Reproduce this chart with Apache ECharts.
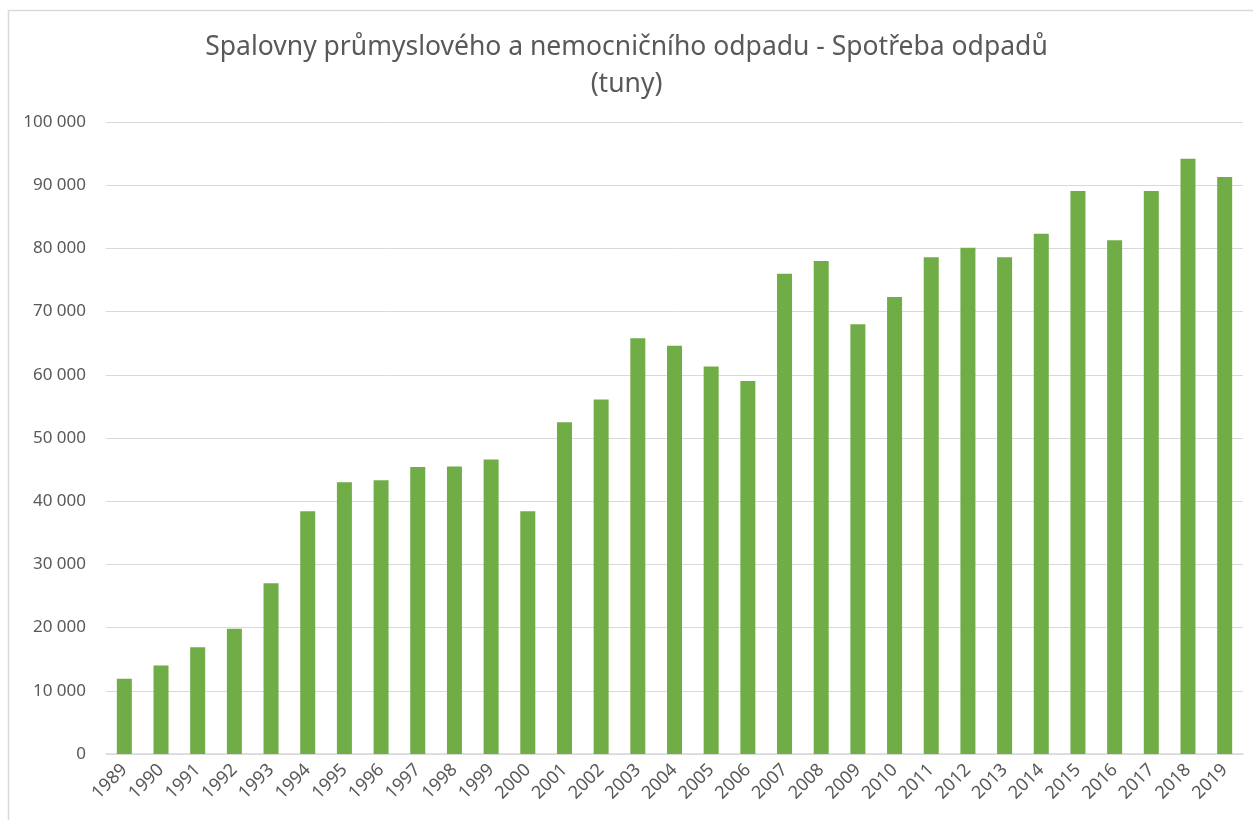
<!DOCTYPE html>
<html>
<head>
<meta charset="utf-8">
<script src="https://cdn.jsdelivr.net/npm/echarts@6/dist/echarts.min.js"></script>
<style>
  html, body { margin: 0; padding: 0; background: #fff; }
  #main { width: 1253px; height: 820px; }
</style>
</head>
<body>
<div id="main"></div>
<script>
// roky
const years = ['1989', '1990', '1991', '1992', '1993', '1994', '1995', '1996', '1997', '1998',
  '1999', '2000', '2001', '2002', '2003', '2004', '2005', '2006', '2007', '2008',
  '2009', '2010', '2011', '2012', '2013', '2014', '2015', '2016', '2017', '2018', '2019'];
// spotreba odpadu (tuny)
const waste = [11900, 14000, 16900, 19800, 27000, 38400, 43000, 43300, 45400, 45500,
  46600, 38400, 52500, 56100, 65800, 64600, 61300, 59000, 76000, 78000,
  68000, 72300, 78600, 80100, 78600, 82300, 89100, 81300, 89100, 94200, 91300];
const yTicks = { min: 0, max: 100000, step: 10000 };

const labelColor = '#595959';
const font = 'Noto Sans';

const chart = echarts.init(document.getElementById('main'));
chart.setOption({
  animation: false,
  backgroundColor: '#fff',
  title: {
    text: 'Spalovny průmyslového a nemocničního odpadu - Spotřeba odpadů\n(tuny)',
    left: 'center',
    top: 24,
    padding: [5, 5, 5, 23],
    textStyle: {
      fontFamily: font,
      fontSize: 26.5,
      fontWeight: 'normal',
      color: labelColor,
      lineHeight: 37
    }
  },
  graphic: [{
    type: 'rect',
    shape: { x: 8.5, y: 10.5, width: 1400, height: 1000 },
    style: { fill: 'none', stroke: '#d9d9d9', lineWidth: 1.5 },
    silent: true
  }],
  grid: { left: 106, right: 10, top: 122, bottom: 66 },
  xAxis: {
    type: 'category',
    data: years,
    axisLine: { lineStyle: { color: '#d9d9d9', width: 1.5 } },
    axisTick: { show: false },
    axisLabel: {
      rotate: 45,
      interval: 0,
      margin: 13,
      fontFamily: font,
      fontSize: 18,
      color: labelColor
    }
  },
  yAxis: {
    type: 'value',
    min: yTicks.min,
    max: yTicks.max,
    interval: yTicks.step,
    axisLine: { show: false },
    axisTick: { show: false },
    splitLine: { lineStyle: { color: '#d9d9d9', width: 1 } },
    axisLabel: {
      margin: 20,
      fontFamily: font,
      fontSize: 17,
      color: labelColor,
      formatter: v => String(v).replace(/\B(?=(\d{3})+(?!\d))/g, ' ')
    }
  },
  series: [{
    type: 'bar',
    data: waste,
    barWidth: 15,
    itemStyle: { color: '#70ad47' }
  }]
});
</script>
</body>
</html>
